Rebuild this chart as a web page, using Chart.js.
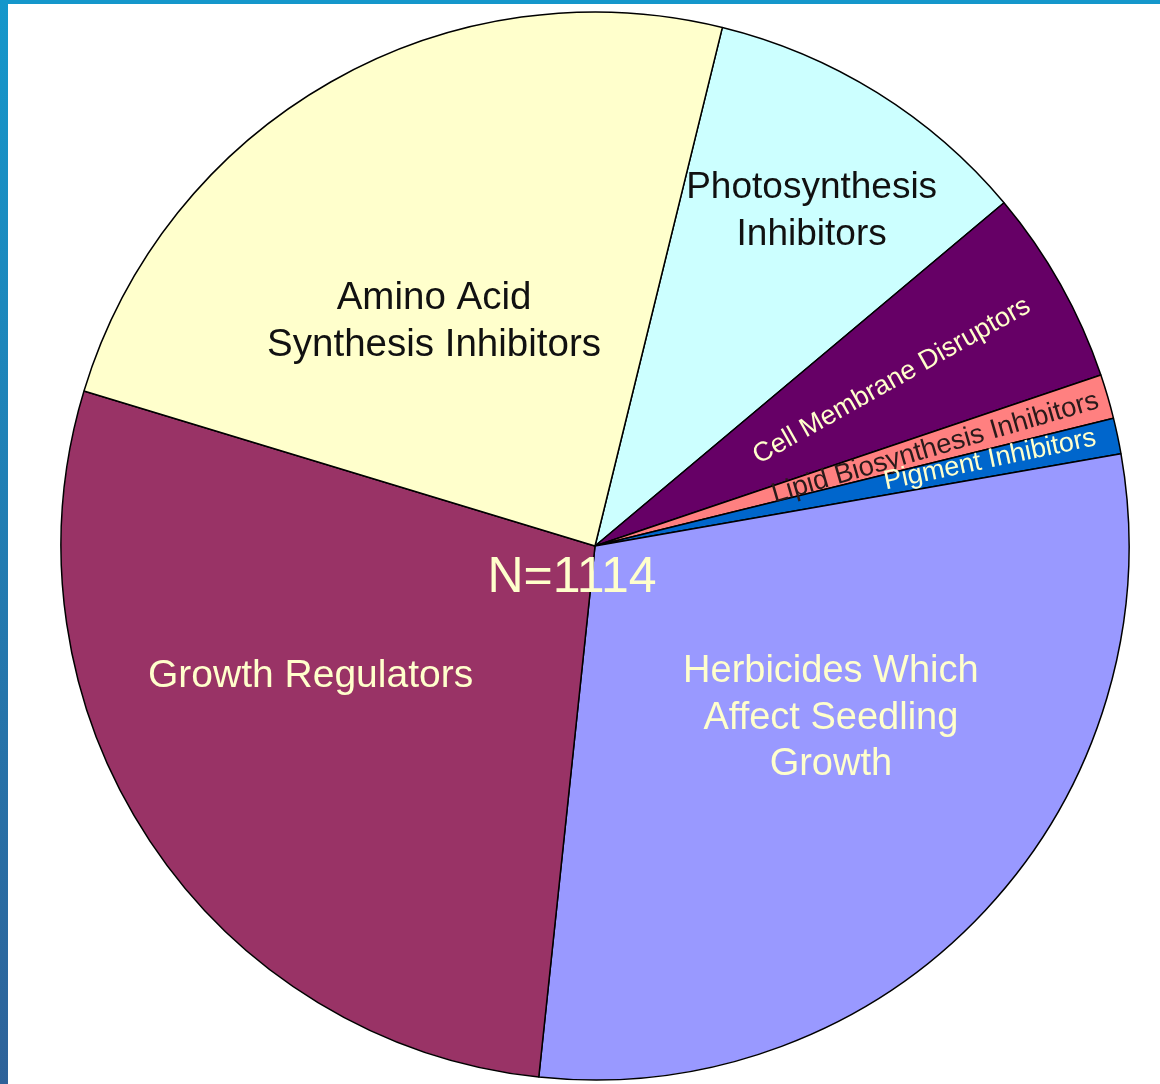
<!DOCTYPE html>
<html>
<head>
<meta charset="utf-8">
<script src="https://cdn.jsdelivr.net/npm/chart.js@4"></script>
<style>
  html, body { margin: 0; padding: 0; background: #fff; overflow: hidden; }
  body { width: 1160px; height: 1084px; position: relative; }
  .frame-left { position: absolute; left: 0; top: 0; width: 8px; height: 1084px;
    background: linear-gradient(to bottom, #1597cb, #2e6299); }
  .frame-top { position: absolute; left: 0; top: 0; width: 1160px; height: 4px; background: #1597cb; }
  #wrap { position: absolute; left: 57px; top: 8px; width: 1076px; height: 1076px; }
</style>
</head>
<body>
<div class="frame-left"></div>
<div class="frame-top"></div>
<div id="wrap"><canvas id="pieChart"></canvas></div>
<script>
// herbicide classes, clockwise from the Photosynthesis slice
const categories = [
  'Photosynthesis Inhibitors',
  'Cell Membrane Disruptors',
  'Lipid Biosynthesis Inhibitors',
  'Pigment Inhibitors',
  'Herbicides Which Affect Seedling Growth',
  'Growth Regulators',
  'Amino Acid Synthesis Inhibitors'
];
const counts = [112, 66, 15, 12, 328, 312, 269];

// how the label text is broken on the slices
const labelLines = [
  ['Photosynthesis', 'Inhibitors'],
  ['Cell Membrane Disruptors'],
  ['Lipid Biosynthesis Inhibitors'],
  ['Pigment Inhibitors'],
  ['Herbicides Which', 'Affect Seedling', 'Growth'],
  ['Growth Regulators'],
  ['Amino Acid', 'Synthesis Inhibitors']
];

const sliceColors = ['#CCFFFF', '#660066', '#FF8080', '#0066CC', '#9999FF', '#993366', '#FFFFCC'];

const light = '#FFFFCC';
const dark = '#111111';
// label placement: fraction of radius, angle offset from slice middle (deg)
const labelStyle = [
  { frac: 0.747, off: 1.0,  size: 37, lh: 47, color: dark },
  { frac: 0.636, off: 0.25, size: 27, color: light, rotate: true },
  { frac: 0.663, off: 0.15, size: 27.5, color: '#2a1a1a', rotate: true },
  { frac: 0.757, off: -0.4, size: 27, color: light, rotate: true },
  { frac: 0.547, off: -6.9, size: 38, lh: 46.5, color: light },
  { frac: 0.586, off: 8.9,  size: 39, color: light },
  { frac: 0.517, off: -6.0, size: 38.5, lh: 47, color: dark }
];

const fontFamily = "'Liberation Sans', Arial, sans-serif";
const total = counts.reduce((a, b) => a + b, 0);

const sliceLabels = {
  id: 'sliceLabels',
  afterDatasetsDraw(chart) {
    const c = chart.ctx;
    const meta = chart.getDatasetMeta(0);
    c.save();
    c.textAlign = 'center';
    c.textBaseline = 'middle';
    meta.data.forEach(function(arc, i) {
      const p = arc.getProps(['x', 'y', 'startAngle', 'endAngle', 'outerRadius'], true);
      const st = labelStyle[i];
      const mid = (p.startAngle + p.endAngle) / 2;
      const a = mid + st.off * Math.PI / 180;
      const lx = p.x + Math.cos(a) * p.outerRadius * st.frac;
      const ly = p.y + Math.sin(a) * p.outerRadius * st.frac;
      c.font = st.size + 'px ' + fontFamily;
      c.fillStyle = st.color;
      c.save();
      c.translate(lx, ly);
      if (st.rotate) c.rotate(mid);
      const lines = labelLines[i];
      const lh = st.lh || st.size * 1.2;
      lines.forEach(function(line, k) {
        c.fillText(line, 0, (k - (lines.length - 1) / 2) * lh);
      });
      c.restore();
    });
    // sample size in the middle of the pie
    const first = meta.data[0];
    c.font = '50px ' + fontFamily;
    c.fillStyle = light;
    c.fillText('N=' + total, first.x - 23, first.y + 32);
    c.restore();
  }
};

new Chart(document.getElementById('pieChart'), {
  type: 'pie',
  data: {
    labels: categories,
    datasets: [{
      data: counts,
      backgroundColor: sliceColors,
      borderColor: '#000000',
      borderWidth: 1.5
    }]
  },
  options: {
    responsive: true,
    maintainAspectRatio: false,
    animation: false,
    rotation: 13.8,
    radius: 534,
    layout: { padding: 0 },
    plugins: {
      legend: { display: false },
      tooltip: { enabled: false }
    }
  },
  plugins: [sliceLabels]
});
</script>
</body>
</html>
